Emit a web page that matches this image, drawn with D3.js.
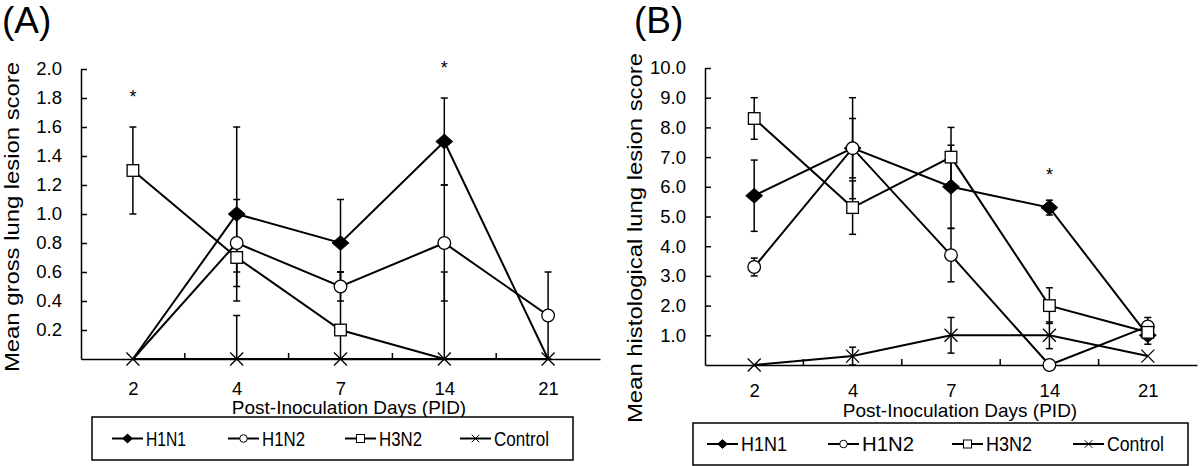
<!DOCTYPE html>
<html>
<head>
<meta charset="utf-8">
<script src="https://cdn.jsdelivr.net/npm/d3@7"></script>
<style>
  html, body { margin: 0; padding: 0; background: #fff; }
  svg { display: block; font-family: "Liberation Sans", Arial, Helvetica, sans-serif; }
</style>
</head>
<body>
<svg id="chart" width="1200" height="466"></svg>
<script>
// ---------------- DATA ----------------
const days = ["2", "4", "7", "14", "21"];
const seriesNames = ["H1N1", "H1N2", "H3N2", "Control"];

// Panel A: Mean gross lung lesion score
const grossH1N1 = [0, 1.0, 0.8, 1.5, 0];
const grossH1N2 = [0, 0.8, 0.5, 0.8, 0.3];
const grossH3N2 = [1.3, 0.7, 0.2, 0, 0];
const grossControl = [0, 0, 0, 0, 0];
const grossH1N1Err = [0, 0.6, 0.3, 0.3, 0];
const grossH1N2Err = [0, 0.3, 0.1, 0.4, 0.3];
const grossH3N2Err = [0.3, 0.1, 0.4, 0.6, 0];
const grossControlErr = [0, 0.3, 0, 0, 0];
const grossTicks = [0.2, 0.4, 0.6, 0.8, 1.0, 1.2, 1.4, 1.6, 1.8, 2.0];
const grossStars = [{ day: "2", value: 1.84 }, { day: "14", value: 2.04 }];

// Panel B: Mean histological lung lesion score
const histoH1N1 = [5.7, 7.3, 6.0, 5.3, 1.0];
const histoH1N2 = [3.3, 7.3, 3.7, 0, 1.3];
const histoH3N2 = [8.3, 5.3, 7.0, 2.0, 1.1];
const histoControl = [0, 0.3, 1.0, 1.0, 0.3];
const histoH1N1Err = [1.2, 1.7, 1.4, 0.25, 0.3];
const histoH1N2Err = [0.3, 1.0, 0.9, 0, 0.3];
const histoH3N2Err = [0.7, 0.9, 1.0, 0.6, 0.2];
const histoControlErr = [0, 0.3, 0.6, 0.45, 0];
const histoTicks = [1, 2, 3, 4, 5, 6, 7, 8, 9, 10];
const histoStars = [{ day: "14", value: 6.57 }];

// ---------------- STYLE / LAYOUT ----------------
const FONT = '"Liberation Sans", Arial, Helvetica, sans-serif';
const symbolOf = { H1N1: "diamond", H1N2: "circle", H3N2: "square", Control: "cross" };
const markerHalf = { diamond: 8.5, circle: 6.3, square: 5.8, cross: 6.5 };
const legendHalf = { diamond: 5, circle: 3.8, square: 4, cross: 3.8 };

const panels = [
  {
    letter: "(A)", letterX: 2,
    yTitle: "Mean gross lung lesion score", yTitleX: 19, yTitleCenter: 217, yTitleLen: 310,
    xLeft: 81, xRight: 600, yBottom: 359, yTop: 69, yMax: 2.0,
    ticks: grossTicks, stars: grossStars,
    values: [grossH1N1, grossH1N2, grossH3N2, grossControl],
    errs: [grossH1N1Err, grossH1N2Err, grossH3N2Err, grossControlErr],
    hideZeroMarkers: true,
    xTickPad: 23, xTitleY: 414, xTitleX: 349,
    legend: { x: 92, y: 417, w: 481, h: 43, items: [112, 228, 345, 460], lineW: 31, textLens: [40, 43, 43, 55] }
  },
  {
    letter: "(B)", letterX: 634,
    yTitle: "Mean histological lung lesion score", yTitleX: 642, yTitleCenter: 238, yTitleLen: 370,
    xLeft: 705, xRight: 1197, yBottom: 365, yTop: 68, yMax: 10,
    ticks: histoTicks, stars: histoStars,
    values: [histoH1N1, histoH1N2, histoH3N2, histoControl],
    errs: [histoH1N1Err, histoH1N2Err, histoH3N2Err, histoControlErr],
    hideZeroMarkers: false,
    xTickPad: 19, xTitleY: 417, xTitleX: 960,
    legend: { x: 693, y: 423, w: 495, h: 42, items: [707, 828, 952, 1073], lineW: 31, textLens: [46, 52, 46, 57] }
  }
];

const svg = d3.select("#chart");

function drawMarker(g, type, cx, cy, h, sw) {
  if (type === "diamond") {
    const hh = h * 0.88;
    g.append("path")
      .attr("d", `M${cx - h},${cy}L${cx},${cy - hh}L${cx + h},${cy}L${cx},${cy + hh}Z`)
      .attr("fill", "#000").attr("stroke", "#000").attr("stroke-width", 0.8);
  } else if (type === "circle") {
    g.append("circle").attr("cx", cx).attr("cy", cy).attr("r", h)
      .attr("fill", "#fff").attr("stroke", "#000").attr("stroke-width", sw);
  } else if (type === "square") {
    g.append("rect").attr("x", cx - h).attr("y", cy - h).attr("width", 2 * h).attr("height", 2 * h)
      .attr("fill", "#fff").attr("stroke", "#000").attr("stroke-width", sw);
  } else if (type === "cross") {
    g.append("path")
      .attr("d", `M${cx - h},${cy - h}L${cx + h},${cy + h}M${cx - h},${cy + h}L${cx + h},${cy - h}`)
      .attr("stroke", "#000").attr("stroke-width", sw).attr("fill", "none");
  }
}

panels.forEach(p => {
  const g = svg.append("g");

  const x = d3.scalePoint().domain(days).range([p.xLeft, p.xRight]).padding(0.5);
  const band = d3.scaleBand().domain(days).range([p.xLeft, p.xRight]);
  const y = d3.scaleLinear().domain([0, p.yMax]).range([p.yBottom, p.yTop]);

  // Panel letter
  g.append("text").attr("x", p.letterX).attr("y", 33)
    .attr("font-size", 37).attr("font-family", FONT).text(p.letter);

  // Y axis
  const yAxis = d3.axisLeft(y).tickValues(p.ticks).tickFormat(d3.format(".1f"))
    .tickSize(-6).tickSizeOuter(0).tickPadding(19);
  const ya = g.append("g").attr("transform", `translate(${p.xLeft},0)`).call(yAxis);
  ya.select(".domain").attr("stroke", "#000").attr("stroke-width", 1.5);
  ya.selectAll(".tick line").attr("stroke", "#000").attr("stroke-width", 1.5);
  ya.selectAll(".tick text").attr("font-size", 18.5).attr("font-family", FONT).attr("fill", "#000");

  // X axis
  const xAxis = d3.axisBottom(x).tickSize(0).tickSizeOuter(0).tickPadding(p.xTickPad);
  const xa = g.append("g").attr("transform", `translate(0,${p.yBottom})`).call(xAxis);
  xa.select(".domain").attr("stroke", "#000").attr("stroke-width", 1.5);
  xa.selectAll(".tick text").attr("font-size", 18.5).attr("font-family", FONT).attr("fill", "#000");
  // minor ticks at category boundaries (pointing up)
  g.selectAll(".xminor").data(days.slice(1)).join("line")
    .attr("x1", d => band(d)).attr("x2", d => band(d))
    .attr("y1", p.yBottom).attr("y2", p.yBottom - 6)
    .attr("stroke", "#000").attr("stroke-width", 1.5);

  // Axis titles
  g.append("text")
    .attr("transform", `translate(${p.yTitleX},${p.yTitleCenter}) rotate(-90)`)
    .attr("text-anchor", "middle").attr("font-size", 21).attr("font-family", FONT)
    .attr("textLength", p.yTitleLen).attr("lengthAdjust", "spacingAndGlyphs")
    .text(p.yTitle);
  g.append("text").attr("x", p.xTitleX).attr("y", p.xTitleY)
    .attr("text-anchor", "middle").attr("font-size", 19).attr("font-family", FONT)
    .text("Post-Inoculation Days (PID)");

  // Error bars
  const eg = g.append("g");
  seriesNames.forEach((name, si) => {
    const vals = p.values[si], errs = p.errs[si];
    days.forEach((d, i) => {
      const e = errs[i];
      if (!e) return;
      const lo = Math.max(0, vals[i] - e), hi = Math.min(p.yMax, vals[i] + e);
      const cx = x(d);
      eg.append("line").attr("x1", cx).attr("x2", cx).attr("y1", y(lo)).attr("y2", y(hi))
        .attr("stroke", "#000").attr("stroke-width", 1.5);
      [hi, vals[i] - e].forEach(v => {
        if (v < 0) return;
        eg.append("line").attr("x1", cx - 3.5).attr("x2", cx + 3.5).attr("y1", y(v)).attr("y2", y(v))
          .attr("stroke", "#000").attr("stroke-width", 1.5);
      });
    });
  });

  // Lines
  const line = d3.line().x((v, i) => x(days[i])).y(v => y(v));
  seriesNames.forEach((name, si) => {
    g.append("path").datum(p.values[si]).attr("d", line)
      .attr("fill", "none").attr("stroke", "#000").attr("stroke-width", 2);
  });

  // Markers
  const mg = g.append("g");
  seriesNames.forEach((name, si) => {
    p.values[si].forEach((v, i) => {
      if (p.hideZeroMarkers && v === 0 && name !== "Control") return;
      const t = symbolOf[name];
      drawMarker(mg, t, x(days[i]), y(v), markerHalf[t], 1.3);
    });
  });

  // Significance stars
  g.selectAll(".star").data(p.stars).join("text")
    .attr("x", d => x(d.day)).attr("y", d => y(d.value) + 11)
    .attr("text-anchor", "middle").attr("font-size", 18).attr("font-family", FONT)
    .text("*");

  // Legend
  const L = p.legend;
  const lg = g.append("g");
  lg.append("rect").attr("x", L.x).attr("y", L.y).attr("width", L.w).attr("height", L.h)
    .attr("fill", "#fff").attr("stroke", "#000").attr("stroke-width", 1.5);
  const ly = L.y + L.h / 2;
  seriesNames.forEach((name, si) => {
    const lx = L.items[si];
    const t = symbolOf[name];
    lg.append("line").attr("x1", lx).attr("x2", lx + L.lineW).attr("y1", ly).attr("y2", ly)
      .attr("stroke", "#000").attr("stroke-width", 2);
    drawMarker(lg, t, lx + L.lineW / 2, ly, legendHalf[t], 1);
    lg.append("text").attr("x", lx + L.lineW + 3).attr("y", ly).attr("dy", "0.35em")
      .attr("font-size", 20.5).attr("font-family", FONT)
      .attr("textLength", L.textLens[si]).attr("lengthAdjust", "spacingAndGlyphs")
      .text(name);
  });
});
</script>
</body>
</html>
